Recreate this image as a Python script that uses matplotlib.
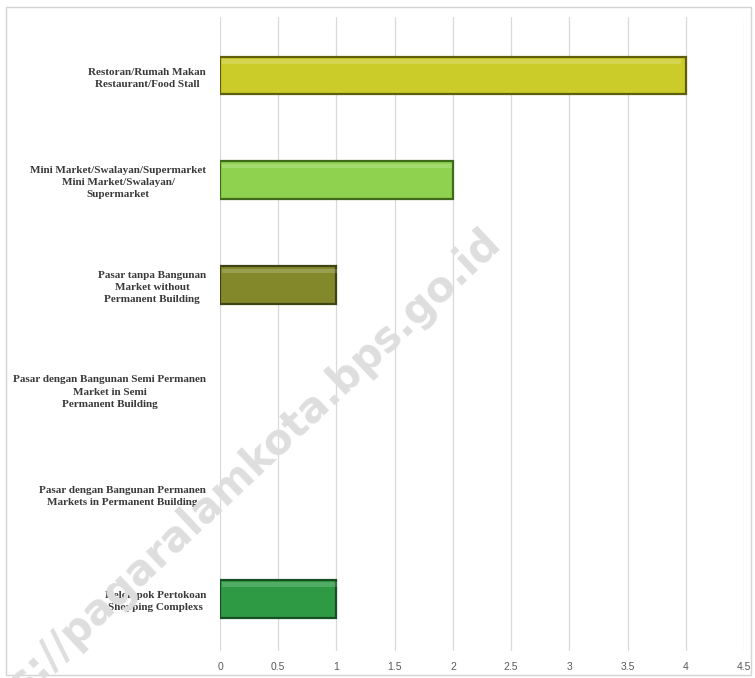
import matplotlib.pyplot as plt
from matplotlib.patches import Rectangle

# data (top to bottom)
categories = [
    "Restoran/Rumah Makan\nRestaurant/Food Stall",
    "Mini Market/Swalayan/Supermarket\nMini Market/Swalayan/\nSupermarket",
    "Pasar tanpa Bangunan\nMarket without\nPermanent Building",
    "Pasar dengan Bangunan Semi Permanen\nMarket in Semi\nPermanent Building",
    "Pasar dengan Bangunan Permanen\nMarkets in Permanent Building",
    "Kelompok Pertokoan\nShopping Complexs",
]
values = [4, 2, 1, 0, 0, 1]
colors = ["#CBCB2A", "#8ED24F", "#83892B", "#888888", "#888888", "#2E9A44"]
edges = ["#5E5E0E", "#3E6A1A", "#3F4512", "#555555", "#555555", "#164F22"]
xticks = [0, 0.5, 1, 1.5, 2, 2.5, 3, 3.5, 4, 4.5]

fig = plt.figure(figsize=(7.55, 6.78), dpi=100)
ax = fig.add_axes([220 / 755, 1 - 651 / 678, (744 - 220) / 755, (651 - 17) / 678])

pos = list(range(len(categories)))
lw = [1.6 if v else 0 for v in values]
ax.barh(pos, values, height=0.36, color=colors, edgecolor=edges, linewidth=lw, zorder=3)
# light bevel strip along the top of each bar
ax.barh([p - 0.135 for p in pos], [v * 0.985 if v else 0 for v in values], height=0.04,
        left=0.02, color="white", alpha=0.18, linewidth=0, zorder=4)

ax.set_xlim(0, 4.5)
ax.set_ylim(5.5, -0.56)
ax.set_xticks(xticks)
ax.set_xticklabels([f"{t:g}" for t in xticks], fontsize=7.5, color="#595959",
                   family="Liberation Sans")
ax.set_yticks(pos)
ax.set_yticklabels(categories, fontsize=8, color="#3a3a3a", family="Liberation Serif",
                   fontweight="bold", multialignment="center", linespacing=1.45)
ax.tick_params(axis="both", length=0)
ax.tick_params(axis="y", pad=10)
ax.tick_params(axis="x", pad=8)
ax.grid(axis="x", color="#d9d9d9", linewidth=0.9, zorder=0)
for s in ax.spines.values():
    s.set_visible(False)

# outer chart frame
fig.patches.append(Rectangle((6 / 755, 1 - 675 / 678), 745 / 755, 668 / 678,
                             transform=fig.transFigure, fill=False,
                             edgecolor="#d4d4d4", linewidth=1.0))

# watermark
fig.text(494 / 755, 1 - 236 / 678, "https://pagaralamkota.bps.go.id", rotation=43.3,
         fontsize=30, color="#dedede", ha="right", va="center", fontweight="bold",
         family="DejaVu Sans", rotation_mode="anchor")

fig.savefig("out.png", dpi=100)
